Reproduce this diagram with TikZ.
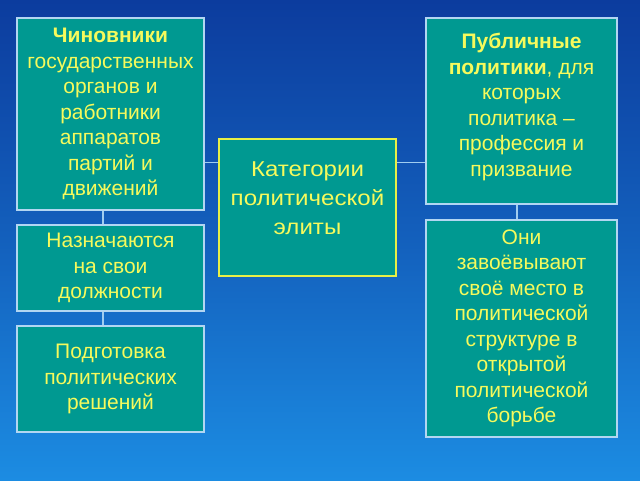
\documentclass[tikz,border=0pt]{standalone}
\usepackage{fontspec}
\setmainfont{Liberation Sans}
\newfontfamily\corefont[FakeStretch=1.12]{Liberation Sans}
\definecolor{elbgtop}{RGB}{12,60,158}
\definecolor{elbgbot}{RGB}{28,140,226}
\definecolor{elteal}{RGB}{0,153,145}
\definecolor{elyellow}{RGB}{246,250,92}
\definecolor{elframe}{RGB}{178,214,242}
\definecolor{elline}{RGB}{160,205,240}
\definecolor{elcore}{RGB}{232,240,70}
\usepackage{tikz}

\tikzset{
  sidebox/.style={draw=elframe, line width=1.6pt, fill=elteal, text=elyellow,
    align=center, inner sep=0pt, minimum width=#1,
    font=\fontsize{21}{25.5}\selectfont},
  sidebox/.default=187pt,
  corebox/.style={draw=elcore, line width=2.6pt, fill=elteal, text=elyellow,
    align=center, inner sep=0pt, minimum width=177pt, minimum height=137pt,
    font=\corefont\fontsize{21.5}{29}\selectfont},
  link/.style={draw=elline, line width=1.4pt}
}

\begin{document}
\begin{tikzpicture}[x=1pt,y=-1pt]
% Background
\shade[top color=elbgtop, bottom color=elbgbot, middle color=elbgtop!55!elbgbot]
  (0,0) rectangle (640,480);

% Centre
\node[corebox] (cat) at (307.5,207.5) {Категории\\политической\\элиты\\[-10pt]};

% Left column
\node[sidebox, minimum height=192pt] (chin) at (110.5,114)
  {\textbf{Чиновники}\\государственных\\органов и\\работники\\аппаратов\\партий и\\движений};
\node[sidebox, minimum height=86pt] (nazn) at (110.5,268)
  {Назначаются\\на свои\\должности};
\node[sidebox, minimum height=106pt] (podg) at (110.5,379)
  {Подготовка\\политических\\решений};

% Right column
\node[sidebox=191pt, minimum height=186pt] (publ) at (521.5,111)
  {\textbf{Публичные}\\\textbf{политики}, для\\которых\\политика --\\профессия и\\призвание\\[-13pt]};
\node[sidebox=191pt, minimum height=217pt] (oni) at (521.5,328.5)
  {Они\\завоёвывают\\своё место в\\политической\\структуре в\\открытой\\политической\\борьбе};

% Links
\draw[link] ([yshift=-25pt]cat.north west) -- ([yshift=-25pt]cat.north west -| chin.east);
\draw[link] ([yshift=-25pt]cat.north east) -- ([yshift=-25pt]cat.north east -| publ.west);
\draw[link] ([xshift=-7.5pt]chin.south) -- ([xshift=-7.5pt]nazn.north);
\draw[link] ([xshift=-7.5pt]nazn.south) -- ([xshift=-7.5pt]podg.north);
\draw[link] ([xshift=-4.5pt]publ.south) -- ([xshift=-4.5pt]oni.north);
\end{tikzpicture}
\end{document}
